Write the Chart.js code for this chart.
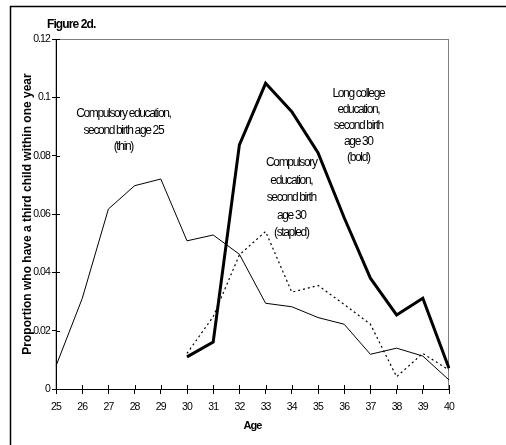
<!DOCTYPE html>
<html>
<head>
<meta charset="utf-8">
<script src="https://cdn.jsdelivr.net/npm/chart.js@4/dist/chart.umd.min.js"></script>
<style>
  html, body { margin: 0; padding: 0; background: #fff; }
  #wrap { width: 506px; height: 445px; position: relative; }
</style>
</head>
<body>
<div id="wrap"><canvas id="fig"></canvas></div>
<script>
  const ages = ["25","26","27","28","29","30","31","32","33","34","35","36","37","38","39","40"];
  const thinAge25 = [0.0079, 0.031, 0.0617, 0.0697, 0.072, 0.0508, 0.0528, 0.0462, 0.0294, 0.0282, 0.0245, 0.0222, 0.0119, 0.014, 0.0113, 0.0031];
  const stapledAge30 = [null, null, null, null, null, 0.0122, 0.0248, 0.046, 0.054, 0.0332, 0.0355, 0.029, 0.0222, 0.0042, 0.0122, 0.0065];
  const boldAge30 = [null, null, null, null, null, 0.011, 0.0161, 0.0837, 0.1048, 0.0951, 0.081, 0.0587, 0.038, 0.0254, 0.0311, 0.0071];

  // text notes, anchored at (category index, value)
  const notes = [
    { at: [2.57, 0.0943], gap: 16.5, lines: ["Compulsory education,", "second birth age 25", "(thin)"] },
    { at: [8.98, 0.0775], gap: 17.5, lines: ["Compulsory", "education,", "second birth", "age 30", "(stapled)"] },
    { at: [11.54, 0.1011], gap: 16, lines: ["Long college", "education,", "second birth", "age 30", "(bold)"] },
  ];
  const yTitle = "Proportion who have a third child within one year";

  const FONT = "'Liberation Sans', Arial, sans-serif";

  const framePlugin = {
    id: "frame",
    beforeDraw(chart) {
      const ctx = chart.ctx;
      ctx.letterSpacing = "-0.9px";
      ctx.save();
      ctx.strokeStyle = "#000";
      ctx.lineWidth = 1.5;
      ctx.beginPath();
      ctx.moveTo(10.5, 445);
      ctx.lineTo(10.5, 6.5);
      ctx.lineTo(506, 6.5);
      ctx.stroke();
      ctx.fillStyle = "#000";
      ctx.font = "bold 12px " + FONT;
      ctx.textBaseline = "middle";
      ctx.textAlign = "left";
      ctx.fillText("Figure 2d.", 47, 25);
      const a = chart.chartArea;
      ctx.strokeStyle = "#808080";
      ctx.lineWidth = 1;
      ctx.strokeRect(a.left, a.top + 0.5, a.right - a.left - 0.5, a.bottom - a.top);
      // y axis title
      ctx.letterSpacing = "0px";
      ctx.font = "bold 12px " + FONT;
      ctx.textAlign = "center";
      ctx.textBaseline = "alphabetic";
      ctx.translate(31, (a.top + a.bottom) / 2);
      ctx.rotate(-Math.PI / 2);
      ctx.fillText(yTitle, 0, 0);
      ctx.restore();
    },
    afterDraw(chart) {
      const ctx = chart.ctx;
      const x = chart.scales.x, y = chart.scales.y;
      ctx.save();
      // inner halves of the crossing tick marks
      ctx.strokeStyle = "#000";
      ctx.lineWidth = 1;
      ctx.beginPath();
      x.ticks.forEach((t, i) => {
        const px = Math.round(x.getPixelForTick(i)) + 0.5;
        ctx.moveTo(px, y.bottom);
        ctx.lineTo(px, y.bottom - 4);
      });
      y.ticks.forEach((t, i) => {
        const py = Math.round(y.getPixelForTick(i)) + 0.5;
        ctx.moveTo(x.left, py);
        ctx.lineTo(x.left + 4, py);
      });
      ctx.stroke();
      ctx.fillStyle = "#000";
      ctx.letterSpacing = "-1.35px";
      ctx.font = "12px " + FONT;
      ctx.textAlign = "center";
      ctx.textBaseline = "middle";
      notes.forEach(n => {
        const cx = x.getPixelForValue(n.at[0]);
        const cy = y.getPixelForValue(n.at[1]);
        n.lines.forEach((l, k) => ctx.fillText(l, cx, cy + k * n.gap));
      });
      ctx.restore();
    },
  };

  new Chart(document.getElementById("fig"), {
    type: "line",
    data: {
      labels: ages,
      datasets: [
        { data: thinAge25, borderColor: "#000", borderWidth: 1, tension: 0, pointRadius: 0 },
        { data: stapledAge30, borderColor: "#000", borderWidth: 1.2, borderDash: [2, 3], tension: 0, pointRadius: 0 },
        { data: boldAge30, borderColor: "#000", borderWidth: 3, tension: 0, pointRadius: 0 },
      ],
    },
    options: {
      responsive: true,
      maintainAspectRatio: false,
      animation: false,
      layout: { padding: { left: 0, right: 57, top: 39, bottom: 0 } },
      plugins: {
        legend: { display: false },
        tooltip: { enabled: false },
      },
      scales: {
        x: {
          offset: false,
          grid: { drawOnChartArea: false, tickLength: 5, color: "#000" },
          border: { color: "#000", width: 1 },
          ticks: { color: "#000", font: { family: FONT, size: 10.5 }, padding: 7, maxRotation: 0, autoSkip: false },
          title: { display: true, text: "Age", color: "#000", font: { family: FONT, size: 11, weight: "bold" }, padding: { top: 0, bottom: 12 } },
          afterFit(s) { s.height = 56; },
        },
        y: {
          min: 0,
          max: 0.12,
          grid: { drawOnChartArea: false, tickLength: 4, color: "#000" },
          border: { color: "#000", width: 1 },
          ticks: {
            stepSize: 0.02,
            color: "#000",
            font: { family: FONT, size: 10.5 },
            padding: 2,
            callback: v => String(Number(v.toFixed(2))),
          },
          afterFit(s) { s.width = 56; },
        },
      },
    },
    plugins: [framePlugin],
  });
</script>
</body>
</html>
